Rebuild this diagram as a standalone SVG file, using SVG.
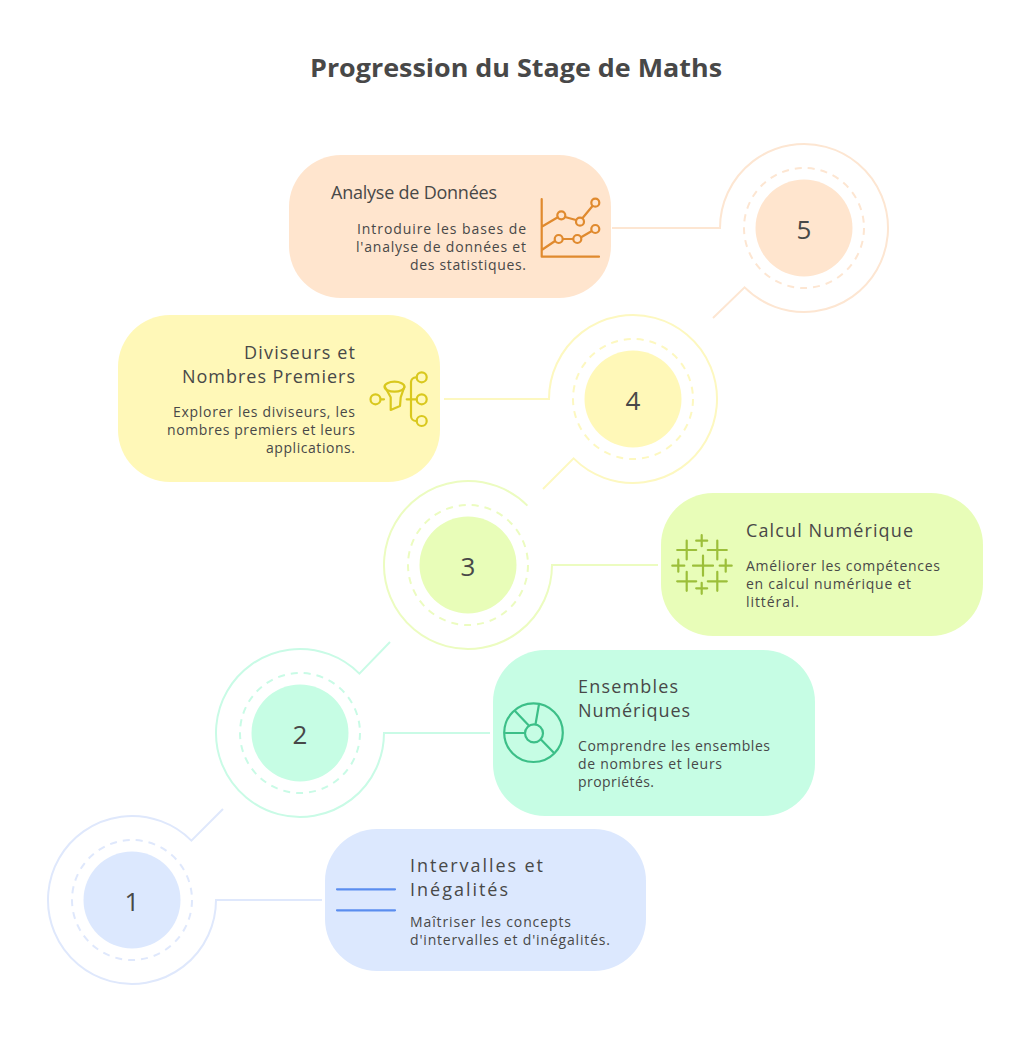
<svg xmlns="http://www.w3.org/2000/svg" width="1032" height="1055" viewBox="0 0 1032 1055">
<style>
text{font-family:"Open Sans","Noto Sans",sans-serif;fill:#484848}
.title{font-size:25px;font-weight:700}
.h{font-size:18px}
.d{font-size:14px}
.n{font-size:26px;text-anchor:middle}
.e{text-anchor:end}
.c{fill:none;stroke-width:2}
.dash{fill:none;stroke-width:2;stroke-dasharray:7 6}
.i{fill:none;stroke-width:2.2;stroke-linecap:round;stroke-linejoin:round}
.b{fill:#dce8fe}.bs{stroke:#dfe8fc}
.m{fill:#c6fde4}.ms{stroke:#c9fbe6}
.l{fill:#e8fdb8}.ls{stroke:#ecfcc0}
.y{fill:#fff8b8}.ys{stroke:#fdf8c0}
.p{fill:#ffe5ce}.ps{stroke:#fde6d2}
</style>
<rect width="1032" height="1055" fill="#fff"/>
<text class="title" x="310" y="77" textLength="412" lengthAdjust="spacingAndGlyphs">Progression du Stage de Maths</text>
<g id="connectors">
<path class="c bs" d="M322,900H216A84,84 0 1 1 191.4,840.6L223,809"/>
<path class="c ms" d="M490,733H384A84,84 0 1 1 359.4,673.6L390,642"/>
<path class="c ls" d="M658,565H552A84,84 0 1 1 527.4,505.6"/>
<path class="c ys" d="M444,399H549A84,84 0 1 1 573.6,458.4L543,489"/>
<path class="c ps" d="M612,228H720A84,84 0 1 1 744.6,287.4L713,318"/>
</g>
<g id="step1">
<circle class="dash bs" cx="132" cy="900" r="60"/><circle class="b" cx="132" cy="900" r="48.5"/>
<text class="n" x="132" y="911">1</text>
<rect class="b" x="325" y="829" width="321" height="142" rx="52"/>
<path class="i" stroke="#5b8def" d="M337,889.3H395M337,910.3H395"/>
<text class="h" x="410" y="872" textLength="133">Intervalles et</text>
<text class="h" x="410" y="896" textLength="98">Inégalités</text>
<text class="d" x="410" y="927" textLength="161">Maîtriser les concepts</text>
<text class="d" x="410" y="945" textLength="200">d'intervalles et d'inégalités.</text>
</g>
<g id="step2">
<circle class="dash ms" cx="300" cy="733" r="60"/><circle class="m" cx="300" cy="733" r="48.5"/>
<text class="n" x="300" y="744">2</text>
<rect class="m" x="493" y="650" width="322" height="166" rx="52"/>
<g class="i" stroke="#3cbf88">
<circle cx="533.5" cy="732.7" r="29.3"/><circle cx="534" cy="733.3" r="9"/>
<path d="M524.7,733H505.7M528.3,725L515,711M535.7,723.3L539,704.3M540.7,739.3L553.3,752.3"/>
</g>
<text class="h" x="578" y="693" textLength="100">Ensembles</text>
<text class="h" x="578" y="717" textLength="112">Numériques</text>
<text class="d" x="578" y="751" textLength="192">Comprendre les ensembles</text>
<text class="d" x="578" y="769" textLength="144">de nombres et leurs</text>
<text class="d" x="578" y="787" textLength="76">propriétés.</text>
</g>
<g id="step3">
<circle class="dash ls" cx="468" cy="565" r="60"/><circle class="l" cx="468" cy="565" r="48.5"/>
<text class="n" x="468" y="576">3</text>
<rect class="l" x="661" y="493" width="322" height="143" rx="52"/>
<path class="i" stroke="#9cbf3a" d="M693,565.7H713M703,555.7V575.7M696.2,540.7H707.2M701.7,535.2V546.2M696.2,588.3H707.2M701.7,582.8V593.8M672.3,565.7H684.3M678.3,559.7V571.7M719.7,565.7H731.7M725.7,559.7V571.7M677.2,550H696.2M686.7,540.5V559.5M707.8,550H726.8M717.3,540.5V559.5M677.2,581.3H696.2M686.7,571.8V590.8M707.8,581.3H726.8M717.3,571.8V590.8"/>
<text class="h" x="746" y="537" textLength="167">Calcul Numérique</text>
<text class="d" x="746" y="571" textLength="194">Améliorer les compétences</text>
<text class="d" x="746" y="589" textLength="165">en calcul numérique et</text>
<text class="d" x="746" y="607" textLength="53">littéral.</text>
</g>
<g id="step4">
<circle class="dash ys" cx="633" cy="399" r="60"/><circle class="y" cx="633" cy="399" r="48.5"/>
<text class="n" x="633" y="410">4</text>
<rect class="y" x="118" y="315" width="322" height="167" rx="52"/>
<g class="i" stroke="#d9c81e">
<circle cx="375.5" cy="399.3" r="5"/><circle cx="421.7" cy="377.3" r="5"/><circle cx="421.7" cy="399.3" r="5"/><circle cx="421.7" cy="421" r="5"/>
<ellipse cx="394.5" cy="386.7" rx="10" ry="5"/>
<path d="M385,387L390.7,397.3V410L400,406L400.7,397.3L404.3,387M380.7,399.3H384M406.7,399.3H416.7M416.7,377.3H416A5,5 0 0 0 411,382.3V416A5,5 0 0 0 416,421H416.7"/>
</g>
<text class="h e" x="355" y="359" textLength="111">Diviseurs et</text>
<text class="h e" x="355" y="383" textLength="173">Nombres Premiers</text>
<text class="d e" x="355" y="417" textLength="182">Explorer les diviseurs, les</text>
<text class="d e" x="355" y="435" textLength="188">nombres premiers et leurs</text>
<text class="d e" x="355" y="453" textLength="89">applications.</text>
</g>
<g id="step5">
<circle class="dash ps" cx="804" cy="228" r="60"/><circle class="p" cx="804" cy="228" r="48.5"/>
<text class="n" x="804" y="239">5</text>
<rect class="p" x="289" y="155" width="322" height="143" rx="52"/>
<g class="i" stroke="#e08a2e">
<path d="M541.7,199V256.7H599M541.7,226.7L557.8,217.3M565,217L576,220M583,217.5L592.5,206M541.7,250L555,241M563,239H573M581.5,237L591,231.5"/>
<circle cx="561.3" cy="215.3" r="4"/><circle cx="580" cy="221.7" r="4"/><circle cx="595.3" cy="202.7" r="4"/>
<circle cx="558.7" cy="239" r="4"/><circle cx="577.3" cy="239" r="4"/><circle cx="595.3" cy="229" r="4"/>
</g>
<text class="h e" x="497" y="199" textLength="166">Analyse de Données</text>
<text class="d e" x="526" y="234" textLength="169">Introduire les bases de</text>
<text class="d e" x="526" y="252" textLength="170">l'analyse de données et</text>
<text class="d e" x="526" y="270" textLength="116">des statistiques.</text>
</g>
</svg>
